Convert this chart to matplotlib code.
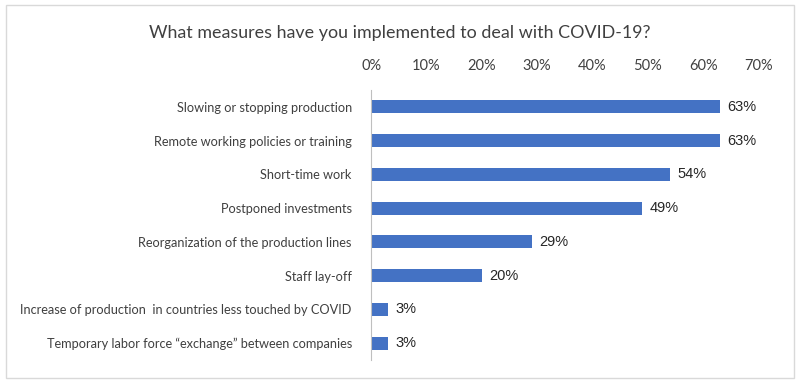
import matplotlib
matplotlib.use('Agg')
import matplotlib.pyplot as plt
from matplotlib.patches import Rectangle
from matplotlib.ticker import FuncFormatter

# 数据
measures = [
    'Slowing or stopping production',
    'Remote working policies or training',
    'Short-time work',
    'Postponed investments',
    'Reorganization of the production lines',
    'Staff lay-off',
    'Increase of production  in countries less touched by COVID',
    'Temporary labor force \u201cexchange\u201d between companies',
]
shares = [0.63, 0.63, 0.54, 0.49, 0.29, 0.20, 0.03, 0.03]
x_ticks = [0, 0.1, 0.2, 0.3, 0.4, 0.5, 0.6, 0.7]
title = 'What measures have you implemented to deal with COVID-19?'

bar_color = '#4472C4'
text_color = '#404040'

fig = plt.figure(figsize=(8, 3.83), dpi=100)
ax = fig.add_axes([0.464, 0.06, 0.484, 0.705])

y_pos = list(range(len(measures)))
ax.barh(y_pos, shares, height=0.38, color=bar_color)
ax.set_ylim(len(measures) - 0.5, -0.5)
ax.set_xlim(0, 0.7)

ax.set_yticks(y_pos)
ax.set_yticklabels(measures, fontsize=9.2, color=text_color, family=['Lato', 'DejaVu Sans'])
ax.tick_params(axis='y', length=0, pad=14)

ax.xaxis.tick_top()
ax.set_xticks(x_ticks)
ax.xaxis.set_major_formatter(FuncFormatter(lambda v, p: '%d%%' % round(v * 100)))
ax.tick_params(axis='x', length=0, pad=12, labelsize=10.5, colors=text_color)
for lab in ax.get_xticklabels():
    lab.set_family('Lato')

for s in ['top', 'right', 'bottom']:
    ax.spines[s].set_visible(False)
ax.spines['left'].set_color('#bfbfbf')
ax.spines['left'].set_linewidth(0.8)

# 数值标签
for y, v in zip(y_pos, shares):
    ax.text(v + 0.013, y, '%d%%' % round(v * 100), va='center', ha='left',
            fontsize=10.5, color='#262626', family='Liberation Sans')

fig.text(0.5, 0.915, title, ha='center', va='center', fontsize=12.9,
         color=text_color, family='Lato')

# 外框
fig.patches.append(Rectangle((0.007, 0.012), 0.986, 0.975, transform=fig.transFigure,
                             fill=False, edgecolor='#d9d9d9', linewidth=1))

fig.savefig('out.png', dpi=100)
